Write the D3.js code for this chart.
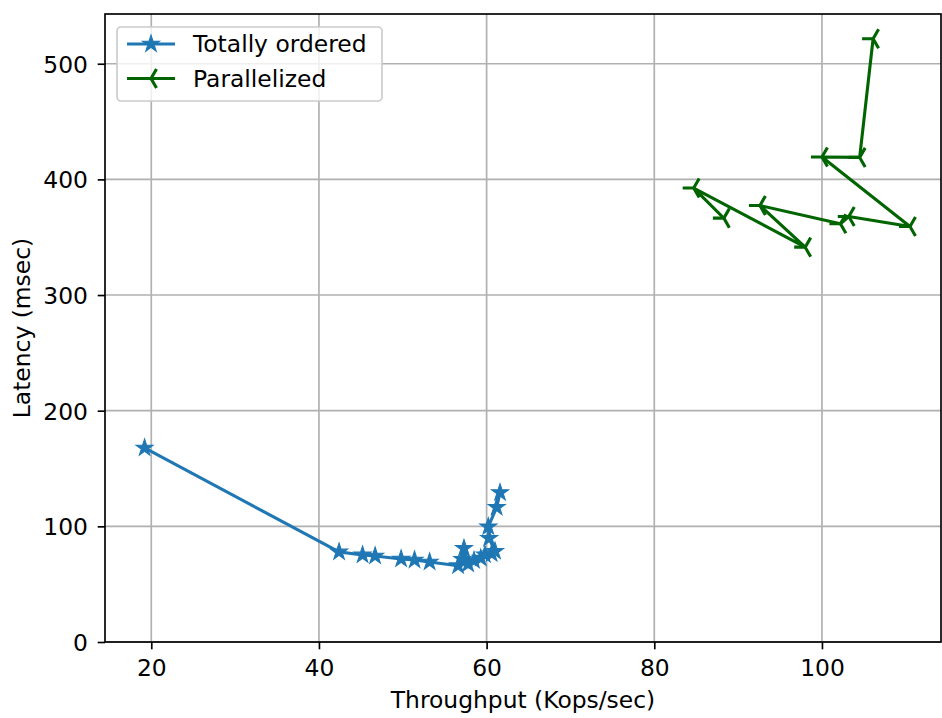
<!DOCTYPE html>
<html>
<head>
<meta charset="utf-8">
<script src="https://cdn.jsdelivr.net/npm/d3@7"></script>
<style>
    body { margin: 0; background: #fff; }
    text { font-family: "DejaVu Sans", sans-serif; }
</style>
</head>
<body>
<div id="chartContainer"></div>
<script>
var orderedX = [19.2, 42.4, 45.2, 46.7, 49.8, 51.4, 53.2, 56.6, 57.1, 57.3, 57.8, 58.5, 59.3, 59.8, 60.6, 61.0, 60.3, 60.2, 61.2, 61.6];
var orderedY = [167.8, 77.9, 75.3, 74.4, 71.8, 70.9, 69.2, 66.0, 71.5, 81.0, 67.5, 70.5, 72.5, 75.5, 76.5, 78.5, 89.7, 99.7, 116.5, 129.2];

var parallelX = [88.3, 84.7, 98.0, 92.6, 102.2, 103.2, 110.5, 100.0, 104.5, 106.1];
var parallelY = [366.5, 392.5, 341.4, 377.4, 361.6, 367.9, 359.3, 419.3, 419.0, 521.6];

var xTicks = [20, 40, 60, 80, 100];
var yTicks = [0, 100, 200, 300, 400, 500];

var seriesNames = ['Totally ordered', 'Parallelized'];

var width = 942;
var height = 718;

var plotLeft = 105;
var plotRight = 941;
var plotTop = 14;
var plotBottom = 642;

var blue = '#1f77b4';
var green = '#006400';
var fontSize = 23.4;

var xScale = d3.scaleLinear().domain([14.48, 114.2]).range([plotLeft, plotRight]);
var yScale = d3.scaleLinear().domain([0, 543]).range([plotBottom, plotTop]);

function starPath(r) {
    var inner = r * 0.381966;
    var points = [];
    for (var i = 0; i < 10; i++) {
        var rad = (i % 2 === 0) ? r : inner;
        var angle = -Math.PI / 2 + i * Math.PI / 5;
        points.push([rad * Math.cos(angle), rad * Math.sin(angle)]);
    }
    return 'M' + points.map(function (p) { return p[0].toFixed(2) + ',' + p[1].toFixed(2); }).join('L') + 'Z';
}

// tri_left: one arm to the left, two arms up-right and down-right
function triLeftPath(r) {
    return 'M0,0L' + (-r) + ',0' +
        'M0,0L' + (0.5 * r) + ',' + (-0.866 * r) +
        'M0,0L' + (0.5 * r) + ',' + (0.866 * r);
}

function zip(xs, ys) {
    return xs.map(function (x, i) { return [x, ys[i]]; });
}

var svg = d3.select('#chartContainer').append('svg')
    .attr('width', width)
    .attr('height', height);

svg.append('rect')
    .attr('width', width)
    .attr('height', height)
    .attr('fill', '#fff');

// Grid
function addGrid() {
    var grid = svg.append('g').attr('class', 'grid');
    grid.selectAll('.vgrid').data(xTicks).enter().append('line')
        .attr('x1', function (d) { return xScale(d); })
        .attr('x2', function (d) { return xScale(d); })
        .attr('y1', plotTop)
        .attr('y2', plotBottom)
        .attr('stroke', '#b0b0b0')
        .attr('stroke-width', 1.67);
    grid.selectAll('.hgrid').data(yTicks).enter().append('line')
        .attr('x1', plotLeft)
        .attr('x2', plotRight)
        .attr('y1', function (d) { return yScale(d); })
        .attr('y2', function (d) { return yScale(d); })
        .attr('stroke', '#b0b0b0')
        .attr('stroke-width', 1.67);
}

function addAxes() {
    var xAxis = d3.axisBottom(xScale).tickValues(xTicks).tickSize(7.3).tickPadding(10.5);
    var yAxis = d3.axisLeft(yScale).tickValues(yTicks).tickSize(7.3).tickPadding(9.7);

    var gx = svg.append('g')
        .attr('transform', 'translate(0,' + plotBottom + ')')
        .call(xAxis);
    var gy = svg.append('g')
        .attr('transform', 'translate(' + plotLeft + ',0)')
        .call(yAxis);

    [gx, gy].forEach(function (g) {
        g.select('.domain').remove();
        g.selectAll('.tick line').attr('stroke', '#000').attr('stroke-width', 1.67);
        g.selectAll('.tick text')
            .attr('fill', '#000')
            .style('font-size', fontSize + 'px')
            .style('font-family', '"DejaVu Sans", sans-serif');
    });
    gy.selectAll('.tick text').attr('dy', '0.36em');

    svg.append('text')
        .attr('x', (plotLeft + plotRight) / 2)
        .attr('y', 708)
        .attr('text-anchor', 'middle')
        .style('font-size', fontSize + 'px')
        .text('Throughput (Kops/sec)');

    svg.append('text')
        .attr('transform', 'translate(30,' + (plotTop + plotBottom) / 2 + ') rotate(-90)')
        .attr('text-anchor', 'middle')
        .style('font-size', fontSize + 'px')
        .text('Latency (msec)');
}

function addSeries(points, color, markerPath, filled) {
    var line = d3.line()
        .x(function (d) { return xScale(d[0]); })
        .y(function (d) { return yScale(d[1]); });

    var g = svg.append('g');
    g.append('path')
        .datum(points)
        .attr('d', line)
        .attr('fill', 'none')
        .attr('stroke', color)
        .attr('stroke-width', 3.1)
        .attr('stroke-linejoin', 'round')
        .attr('stroke-linecap', 'square');

    g.selectAll('.marker').data(points).enter().append('path')
        .attr('transform', function (d) { return 'translate(' + xScale(d[0]) + ',' + yScale(d[1]) + ')'; })
        .attr('d', markerPath)
        .attr('fill', filled ? color : 'none')
        .attr('stroke', color)
        .attr('stroke-width', filled ? 1.04 : 3.1)
        .attr('stroke-linejoin', 'miter');
}

function addFrame() {
    svg.append('rect')
        .attr('x', plotLeft)
        .attr('y', plotTop)
        .attr('width', plotRight - plotLeft)
        .attr('height', plotBottom - plotTop)
        .attr('fill', 'none')
        .attr('stroke', '#000')
        .attr('stroke-width', 1.67);
}

function addLegend() {
    var legend = svg.append('g');
    legend.append('rect')
        .attr('x', 117)
        .attr('y', 27)
        .attr('width', 265)
        .attr('height', 74)
        .attr('rx', 4)
        .attr('fill', '#fff')
        .attr('fill-opacity', 0.8)
        .attr('stroke', '#cccccc')
        .attr('stroke-width', 1.67);

    var rows = [
        { name: seriesNames[0], color: blue, marker: starPath(9), filled: true },
        { name: seriesNames[1], color: green, marker: triLeftPath(11), filled: false }
    ];
    rows.forEach(function (row, i) {
        var y = 44 + i * 34.5;
        legend.append('line')
            .attr('x1', 127)
            .attr('x2', 175)
            .attr('y1', y)
            .attr('y2', y)
            .attr('stroke', row.color)
            .attr('stroke-width', 3.1);
        legend.append('path')
            .attr('transform', 'translate(151,' + y + ')')
            .attr('d', row.marker)
            .attr('fill', row.filled ? row.color : 'none')
            .attr('stroke', row.color)
            .attr('stroke-width', row.filled ? 1.04 : 3.1);
        legend.append('text')
            .attr('x', 193)
            .attr('y', y)
            .attr('dy', '0.36em')
            .style('font-size', fontSize + 'px')
            .text(row.name);
    });
}

addGrid();
addAxes();
addSeries(zip(orderedX, orderedY), blue, starPath(9), true);
addSeries(zip(parallelX, parallelY), green, triLeftPath(11), false);
addFrame();
addLegend();
</script>
</body>
</html>
